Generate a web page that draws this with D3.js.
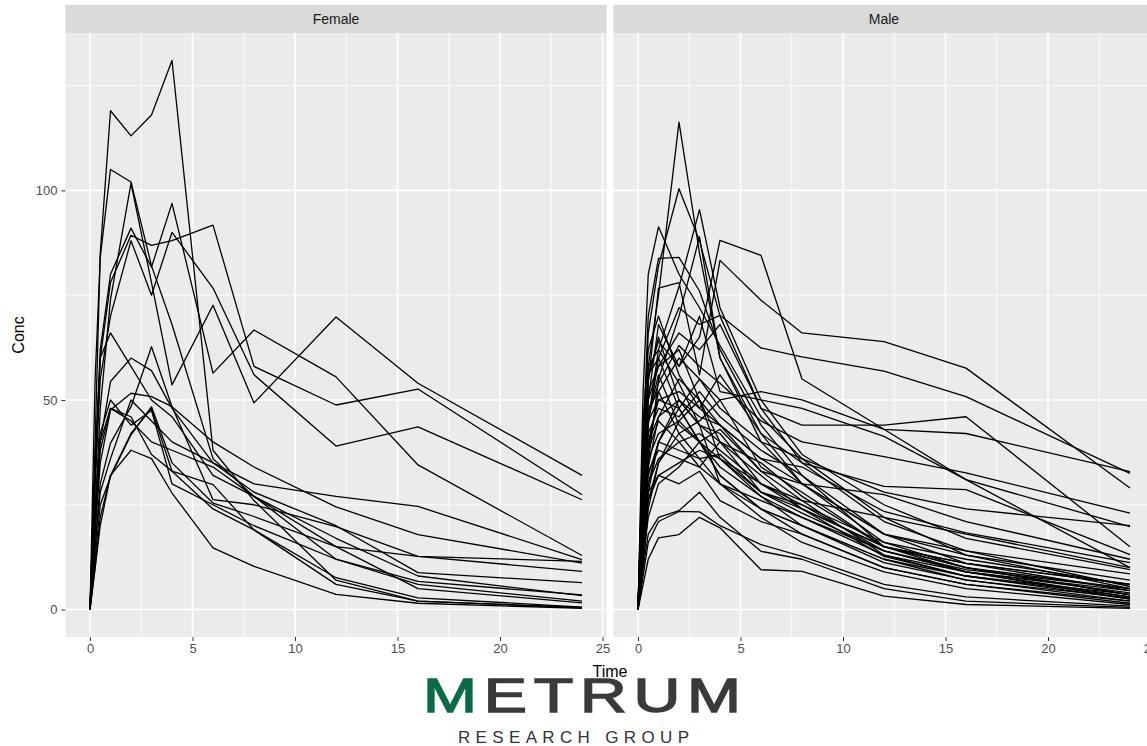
<!DOCTYPE html>
<html>
<head>
<meta charset="utf-8">
<script src="https://cdn.jsdelivr.net/npm/d3@7"></script>
<style>
  body { margin: 0; background: #fff; }
  svg { display: block; font-family: "Liberation Sans", Arial, sans-serif; }
</style>
</head>
<body>
<svg width="1147" height="746"></svg>
<script>
// sampling times (h) shared by every subject
const times = [0, 0.25, 0.5, 1, 2, 3, 4, 6, 8, 12, 16, 24];
const facets = ["Female", "Male"];
const xTicks = [0, 5, 10, 15, 20, 25];
const yTicks = [0, 50, 100];

// one row per female subject, values at each time above
const femaleConc = [
  [0, 40, 85, 119, 113, 118, 131, 38, 26, 7, 2, 0.5],
  [0, 55, 84, 105, 102, 82, 68, 36, 27, 12, 6, 2],
  [0, 22, 48, 74, 101.7, 78, 53.6, 72.6, 49.3, 69.8, 54, 32],
  [0, 30, 60, 78, 89.3, 86.9, 88, 91.7, 58, 48.8, 52.6, 27.4],
  [0, 35, 62, 80, 91, 81.7, 96.9, 56.4, 66.7, 55.5, 34.5, 12.9],
  [0, 30, 55, 70, 88, 75, 90, 76.7, 56, 39, 43.6, 26.2],
  [0, 10, 20, 32, 38, 36, 27.8, 14.7, 10.3, 3.6, 1.5, 0.3],
  [0, 20, 40, 54.4, 60, 57, 48, 35, 30, 27, 24.6, 11.9],
  [0, 18, 35, 47.6, 51.6, 50.8, 48.4, 40, 34, 24.5, 17.9, 11.1],
  [0, 15, 30, 39.7, 48.4, 62.7, 48.4, 26.2, 25, 19.8, 12.7, 9.1],
  [0, 12, 25, 31.7, 41.7, 48.4, 35, 25.4, 22.2, 15, 12.7, 11.5],
  [0, 20, 38, 48, 46, 37, 33, 29.8, 19, 7.6, 2.8, 0.6],
  [0, 10, 22, 32, 42, 48, 33, 24, 19, 6, 2, 0.4],
  [0, 25, 42, 50, 44, 47.5, 30, 25, 20, 12, 6.7, 3.5],
  [0, 15, 28, 36, 50, 45, 40, 35, 28, 20, 8.8, 6.4],
  [0, 22, 40, 48, 45, 40, 38, 34, 27, 17, 8, 3.3],
  [0, 35, 60, 66, 58, 50, 46, 32, 27, 15, 5, 1.6]
];

// one row per male subject
const maleConc = [
  [0, 30, 58, 75, 116.3, 85, 60, 42, 30, 18, 11, 4.5],
  [0, 38, 66, 82, 100.4, 88, 70, 48, 35, 21, 14, 5.5],
  [0, 52, 80, 91.3, 80, 72, 63, 46, 36, 22, 13, 5],
  [0, 20, 45, 62, 77, 95.4, 72, 50, 37, 25, 17, 9.5],
  [0, 25, 50, 68, 58, 65, 88.1, 84.5, 55, 43, 31, 10],
  [0, 15, 35, 55, 70, 88.9, 60, 40, 30, 16, 10, 3.5],
  [0, 40, 70, 83.8, 84, 76, 62, 44, 32, 15, 9, 2.5],
  [0, 28, 54, 76.7, 78, 56, 83.3, 73.8, 66, 63.9, 57.6, 29],
  [0, 22, 44, 60, 72, 68, 70.2, 62.4, 60.3, 56.9, 50.8, 32.5],
  [0, 30, 50, 58, 66, 62, 68, 48, 44, 44, 46, 15],
  [0, 18, 38, 52, 60, 55, 50, 52, 50, 43, 42, 32.9],
  [0, 26, 46, 54, 63, 58, 54, 45, 40, 36.5, 32.6, 23],
  [0, 35, 56, 64, 58, 70, 52, 50, 48, 41.3, 31, 19.8],
  [0, 20, 40, 50, 52, 48, 56, 42, 35, 29.4, 28.6, 13.1],
  [0, 45, 62, 70, 56, 48, 44, 33, 30, 27.4, 21, 12],
  [0, 12, 28, 40, 50, 46, 44, 36, 34, 23.4, 18.3, 11.2],
  [0, 32, 55, 65, 50, 44, 42, 30, 26, 22, 18, 10],
  [0, 25, 42, 48, 46, 52, 46, 38, 32, 18, 14, 8.5],
  [0, 16, 34, 46, 55, 50, 40, 28, 24, 15, 11, 6],
  [0, 28, 46, 56, 44, 40, 36, 27, 22, 13, 8, 3],
  [0, 22, 38, 45, 40, 42, 38, 30, 25, 14, 9, 4.5],
  [0, 38, 58, 62, 54, 44, 40, 32, 24, 12.7, 8, 2.5],
  [0, 10, 24, 35, 42, 45, 50, 34, 28, 15, 10, 5],
  [0, 30, 45, 50, 48, 40, 34, 27, 20, 11.2, 7.1, 2],
  [0, 14, 30, 40, 38, 36, 37, 28, 23, 14, 9, 4],
  [0, 20, 33, 38, 36, 34, 40, 35, 27, 15, 10, 3.5],
  [0, 40, 56, 60, 48, 40, 32, 24, 18, 10, 6, 1.5],
  [0, 18, 28, 32, 35, 38, 36, 28, 25, 16, 12, 6],
  [0, 24, 36, 42, 45, 40, 32, 24, 20, 12, 7, 2.8],
  [0, 12, 22, 30, 34, 40, 43, 33, 26, 13, 9, 3],
  [0, 30, 48, 52, 42, 36, 30, 22, 16, 9, 5, 1.2],
  [0, 16, 26, 32, 30, 33, 26, 21, 18, 10, 6, 2],
  [0, 8, 16, 21, 23.4, 23.3, 20, 15.5, 12.7, 6, 3, 0.8],
  [0, 10, 18, 22, 23.6, 28, 22, 13.9, 12, 5, 2, 0.5],
  [0, 6, 12, 17.1, 17.9, 22, 19.5, 9.5, 9.1, 3.2, 1.2, 0.3],
  [0, 20, 30, 36, 40, 34, 30, 24, 20, 12, 8, 3.6],
  [0, 26, 40, 46, 50, 44, 30, 26, 22, 14, 9.5, 5],
  [0, 14, 26, 35, 45, 50, 44, 36, 30, 18, 13, 7],
  [0, 34, 52, 58, 62, 50, 36, 30, 24, 15, 11, 6],
  [0, 18, 32, 40, 48, 55, 48, 40, 36, 28, 24, 20]
];

const svg = d3.select('svg');

// layout (ggplot-ish facet_wrap)
const panelTop = 33, panelBottom = 637, stripTop = 5;
const panelW = 541.2, panelGap = 6.8, panelLeft = 65.4;

// ggplot expands continuous scales by 5% each side
const allVals = femaleConc.concat(maleConc).flat();
const yMax = d3.max(allVals), tMax = d3.max(times);
const x = d3.scaleLinear().domain([-0.05 * tMax, tMax * 1.05]).range([0, panelW]);
const y = d3.scaleLinear().domain([-0.05 * yMax, yMax * 1.05]).range([panelBottom, panelTop]);

const line = d3.line().x((d, i) => x(times[i])).y(d => y(d));

// logo goes underneath the axis title; letters stretched wide
const sx = 1.35;
const logo = svg.append('g');
logo.append('text')
  .attr('transform', `translate(423,712) scale(${sx},1)`)
  .attr('textLength', 318 / sx).attr('lengthAdjust', 'spacing')
  .style('font-size', '48px')
  .style('fill', '#3a3a3a').style('stroke', '#3a3a3a').style('stroke-width', 1.4)
  .html('<tspan fill="#0b6b45" stroke="#0b6b45">M</tspan>ETRUM');
logo.append('text')
  .attr('x', 458).attr('y', 743)
  .attr('textLength', 231).attr('lengthAdjust', 'spacing')
  .style('font-size', '17px')
  .style('fill', '#333')
  .text('RESEARCH GROUP');

facets.forEach((name, k) => {
  const data = k === 0 ? femaleConc : maleConc;
  const g = svg.append('g')
    .attr('transform', `translate(${panelLeft + k * (panelW + panelGap)},0)`);

  // strip
  g.append('rect').attr('x', 0).attr('y', stripTop)
    .attr('width', panelW).attr('height', panelTop - stripTop)
    .attr('fill', '#d9d9d9');
  g.append('text').attr('x', panelW / 2).attr('y', 24)
    .attr('text-anchor', 'middle')
    .style('font-size', '14px').style('fill', '#1a1a1a')
    .text(name);

  // panel background + grid
  g.append('rect').attr('x', 0).attr('y', panelTop)
    .attr('width', panelW).attr('height', panelBottom - panelTop)
    .attr('fill', '#ebebeb');

  const xMinor = xTicks.slice(0, -1).map(v => v + 2.5);
  const yMinor = [25, 75, 125];
  g.selectAll('.xminor').data(xMinor).join('line')
    .attr('x1', d => x(d)).attr('x2', d => x(d))
    .attr('y1', panelTop).attr('y2', panelBottom)
    .attr('stroke', '#fff').attr('stroke-width', 0.8);
  g.selectAll('.yminor').data(yMinor).join('line')
    .attr('y1', d => y(d)).attr('y2', d => y(d))
    .attr('x1', 0).attr('x2', panelW)
    .attr('stroke', '#fff').attr('stroke-width', 0.8);
  g.selectAll('.xmajor').data(xTicks).join('line')
    .attr('x1', d => x(d)).attr('x2', d => x(d))
    .attr('y1', panelTop).attr('y2', panelBottom)
    .attr('stroke', '#fff').attr('stroke-width', 1.6);
  g.selectAll('.ymajor').data(yTicks).join('line')
    .attr('y1', d => y(d)).attr('y2', d => y(d))
    .attr('x1', 0).attr('x2', panelW)
    .attr('stroke', '#fff').attr('stroke-width', 1.6);

  // subject profiles
  g.selectAll('.subj').data(data).join('path')
    .attr('d', line)
    .attr('fill', 'none')
    .attr('stroke', '#000')
    .attr('stroke-width', 1.3)
    .attr('stroke-linejoin', 'round');

  // x axis
  const xa = g.append('g').attr('transform', `translate(0,${panelBottom})`)
    .call(d3.axisBottom(x).tickValues(xTicks).tickSize(4).tickPadding(3));
  xa.select('.domain').remove();
  xa.selectAll('line').attr('stroke', '#333');
  xa.selectAll('text').style('font-size', '13px').style('fill', '#4d4d4d')
    .style('font-family', '"Liberation Sans", Arial, sans-serif');

  // y axis only on the first facet
  if (k === 0) {
    const ya = g.append('g')
      .call(d3.axisLeft(y).tickValues(yTicks).tickSize(4).tickPadding(4));
    ya.select('.domain').remove();
    ya.selectAll('line').attr('stroke', '#333');
    ya.selectAll('text').style('font-size', '13px').style('fill', '#4d4d4d')
      .style('font-family', '"Liberation Sans", Arial, sans-serif');
  }
});

// axis titles
svg.append('text')
  .attr('x', panelLeft + panelW + panelGap / 2).attr('y', 677)
  .attr('text-anchor', 'middle')
  .style('font-size', '16px').style('fill', '#000')
  .text('Time');
svg.append('text')
  .attr('transform', `translate(24,${(panelTop + panelBottom) / 2}) rotate(-90)`)
  .attr('text-anchor', 'middle')
  .style('font-size', '16px').style('fill', '#000')
  .text('Conc');
</script>
</body>
</html>
